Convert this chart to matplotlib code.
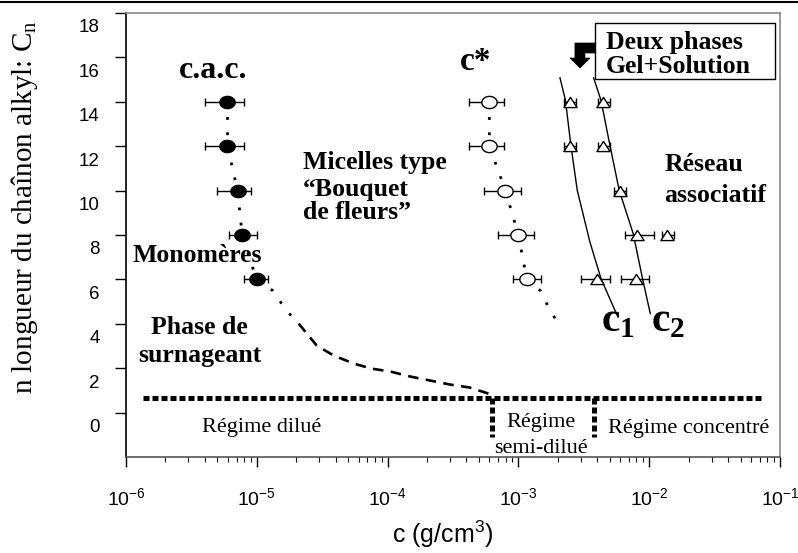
import numpy as np
import matplotlib
matplotlib.use("Agg")
import matplotlib.pyplot as plt
from matplotlib.path import Path
from matplotlib.patches import Rectangle, Polygon
from matplotlib.lines import Line2D
from matplotlib.transforms import ScaledTranslation
from matplotlib.ticker import LogLocator, NullFormatter

SERIF = 'Liberation Serif'
SANS = 'Liberation Sans'

# chain length of the alkyl group
n_alkyl = [14, 12, 10, 8, 6]

# c.a.c. (filled circles) with error bar limits, g/cm3
cac = [5.97e-6, 5.97e-6, 7.13e-6, 7.73e-6, 9.95e-6]
cac_lo = [4.05e-6, 4.05e-6, 5.0e-6, 6.1e-6, 7.96e-6]
cac_hi = [8.0e-6, 8.0e-6, 9.1e-6, 1.01e-5, 1.21e-5]

# c* (open circles)
cstar = [6.0e-4, 6.0e-4, 7.96e-4, 1.0e-3, 1.16e-3]
cstar_lo = [4.2e-4, 4.2e-4, 5.5e-4, 7.0e-4, 9.05e-4]
cstar_hi = [7.8e-4, 7.8e-4, 1.05e-3, 1.31e-3, 1.49e-3]

# gel points (open triangles)
tri_n = [14, 14, 12, 12, 10, 8, 8, 6, 6]
tri_c = [2.48e-3, 4.46e-3, 2.48e-3, 4.46e-3, 5.97e-3, 8.14e-3, 1.38e-2, 3.96e-3, 7.9e-3]
tri_lo = [2.24e-3, 4.03e-3, 2.24e-3, 4.03e-3, 5.4e-3, 6.53e-3, 1.25e-2, 3.01e-3, 6.08e-3]
tri_hi = [2.78e-3, 5.0e-3, 2.78e-3, 5.0e-3, 6.7e-3, 1.08e-2, 1.55e-2, 5.04e-3, 1.0e-2]

# dotted continuations below n=6
cac_tail_c = [1.32e-5, 1.61e-5, 1.99e-5]
cac_tail_n = [5.5, 4.77, 4.1]
cstar_tail_c = [1.47e-3, 1.69e-3, 1.97e-3]
cstar_tail_n = [5.5, 4.77, 4.1]

# dashed curve to the semi-dilute boundary
dash_c = [2.09e-5, 2.87e-5, 3.87e-5, 5.5e-5, 7.55e-5, 1.05e-4, 1.5e-4, 2.13e-4, 3.03e-4, 4.23e-4, 6.56e-4]
dash_n = [4.01, 3.02, 2.57, 2.21, 1.98, 1.85, 1.62, 1.44, 1.26, 1.13, 0.77]

# c1 and c2 boundaries
c1_c = [2.08e-3, 2.29e-3, 2.52e-3, 2.82e-3, 3.52e-3, 4.28e-3, 5.66e-3]
c1_n = [15.08, 14.07, 12.04, 10.01, 7.69, 6.04, 4.41]
c2_c = [3.76e-3, 4.28e-3, 5.01e-3, 5.9e-3, 7.55e-3, 8.89e-3, 1.02e-2]
c2_n = [15.08, 14.07, 12.04, 10.01, 8.06, 6.04, 4.46]

# regime boundaries
regime_y = 0.68
regime_x = [1.35e-6, 7.5e-2]
semi_left, semi_right = 6.3e-4, 3.8e-3
semi_bottom = -1.08

fig = plt.figure(figsize=(7.98, 5.53), dpi=100)
ax = fig.add_axes([0.1579, 0.1736, 0.8195, 0.8029])
ax.set_xscale('log')
ax.set_xlim(1e-6, 1e-1)
ax.set_ylim(-2, 18)

# markers
th = np.linspace(0, 2 * np.pi, 61)
ellipse = Path(np.column_stack([np.cos(th), 0.8 * np.sin(th)]), closed=True)
triangle = Path([(0, 0.77), (-1, -0.77), (1, -0.77), (0, 0.77)], closed=True)

# dotted connections
ax.plot(cac + cac_tail_c, n_alkyl + cac_tail_n, color='black', lw=2,
        linestyle=(0, (1, 4.5)), zorder=2)
ax.plot(cstar + cstar_tail_c, n_alkyl + cstar_tail_n, color='black', lw=2,
        linestyle=(0, (1, 4.5)), zorder=2)
ax.plot(dash_c, dash_n, color='black', lw=1.9, linestyle=(0, (4, 2.8)), zorder=2)

ax.plot(c1_c, c1_n, color='black', lw=1, zorder=2)
ax.plot(c2_c, c2_n, color='black', lw=1, zorder=2)

# error bars
def xerr(c, lo, hi):
    return [np.array(c) - np.array(lo), np.array(hi) - np.array(c)]

ax.errorbar(cac, n_alkyl, xerr=xerr(cac, cac_lo, cac_hi), fmt='none',
            ecolor='black', elinewidth=1, capsize=3, capthick=1, zorder=3)
ax.errorbar(cstar, n_alkyl, xerr=xerr(cstar, cstar_lo, cstar_hi), fmt='none',
            ecolor='black', elinewidth=1, capsize=3, capthick=1, zorder=3)
ax.errorbar(tri_c, tri_n, xerr=xerr(tri_c, tri_lo, tri_hi), fmt='none',
            ecolor='black', elinewidth=1, capsize=3, capthick=1, zorder=3)

ax.plot(cac, n_alkyl, linestyle='none', marker=ellipse, markersize=11,
        markerfacecolor='black', markeredgecolor='black', zorder=4)
ax.plot(cstar, n_alkyl, linestyle='none', marker=ellipse, markersize=11,
        markerfacecolor='white', markeredgecolor='black', markeredgewidth=1, zorder=4)
ax.plot(tri_c, tri_n, linestyle='none', marker=triangle, markersize=9.5,
        markerfacecolor='white', markeredgecolor='black', markeredgewidth=1, zorder=4)

# regime lines
thick_dot = dict(color='black', lw=3.6, linestyle=(0, (1.2, 0.6)), zorder=2)
ax.plot(regime_x, [regime_y, regime_y], **thick_dot)
ax.plot([semi_left, semi_left], [regime_y, semi_bottom], **thick_dot)
ax.plot([semi_right, semi_right], [regime_y, semi_bottom], **thick_dot)

# annotations
bold = dict(family=SERIF, fontweight='bold', color='black')
ax.text(4.61e-6, 15.05, 'c.a.c.', fontsize=23, ha='center', va='baseline', **bold)
ax.text(4.7e-4, 15.45, 'c*', fontsize=24, ha='center', va='baseline', **bold)
ax.text(2.24e-5, 10.99, 'Micelles type', fontsize=18.5, ha='left', va='baseline', **bold)
ax.text(2.24e-5, 9.77, '\u201cBouquet', fontsize=18.5, ha='left', va='baseline', **bold)
ax.text(2.24e-5, 8.74, 'de fleurs\u201d', fontsize=18.5, ha='left', va='baseline', **bold)
ax.text(1.13e-6, 6.8, 'Monomères', fontsize=18.5, ha='left', va='baseline', **bold)
ax.text(3.67e-6, 3.56, 'Phase de', fontsize=18.5, ha='center', va='baseline', **bold)
ax.text(3.67e-6, 2.3, 'surnageant', fontsize=18.5, ha='center', va='baseline', **bold)
ax.text(1.3e-2, 10.9, 'Réseau', fontsize=18.5, ha='left', va='baseline', **bold)
ax.text(1.3e-2, 9.5, 'associatif', fontsize=18.5, ha='left', va='baseline', **bold)
ax.text(4.31e-3, 3.65, r'c$_\mathdefault{1}$', fontsize=30, ha='left', va='baseline', **bold)
ax.text(1.04e-2, 3.65, r'c$_\mathdefault{2}$', fontsize=30, ha='left', va='baseline', **bold)

reg = dict(family=SERIF, fontsize=16, color='black', va='baseline', ha='center')
ax.text(1.09e-5, -0.86, 'Régime dilué', **reg)
ax.text(1.5e-3, -0.63, 'Régime', **reg)
ax.text(1.5e-3, -1.8, 'semi-dilué', **reg)
ax.text(2.02e-2, -0.92, 'Régime concentré', **reg)

# two-phase box with bent arrow
ax.add_patch(Rectangle((0.717, 0.851), 0.276, 0.127, transform=ax.transAxes,
                       facecolor='white', edgecolor='black', lw=1, zorder=5))
ax.text(0.734, 0.919, 'Deux phases', transform=ax.transAxes, fontsize=18.5,
        ha='left', va='baseline', zorder=6, **bold)
ax.text(0.734, 0.865, 'Gel+Solution', transform=ax.transAxes, fontsize=18.5,
        ha='left', va='baseline', zorder=6, **bold)
arrow = [(0.7171, 0.9324), (0.6865, 0.9324), (0.6865, 0.8986), (0.6789, 0.8986),
         (0.6942, 0.8761), (0.7095, 0.8986), (0.7018, 0.8986), (0.7018, 0.9099),
         (0.7171, 0.9099)]
ax.add_patch(Polygon(arrow, closed=True, transform=ax.transAxes,
                     facecolor='black', edgecolor='black', lw=0.5, zorder=5))

# axes styling
ax.spines['left'].set_color('black')
ax.spines['bottom'].set_color('#555555')
ax.spines['top'].set_color('#888888')
ax.spines['right'].set_color('#888888')
for s in ax.spines.values():
    s.set_linewidth(1.2)

ax.set_yticks(np.arange(0, 19, 2))
ax.set_yticklabels([str(v) for v in range(0, 19, 2)])
ax.xaxis.set_major_locator(LogLocator(base=10, numticks=10))
ax.xaxis.set_minor_locator(LogLocator(base=10, subs=np.arange(2, 10), numticks=20))
ax.xaxis.set_minor_formatter(NullFormatter())
ax.tick_params(axis='y', which='major', direction='out', length=8, width=1,
               pad=11, labelsize=13.5, colors='black')
ax.tick_params(axis='x', which='major', direction='out', length=7, width=1,
               pad=15, labelsize=14, colors='black')
ax.tick_params(axis='x', which='minor', direction='out', length=3.5, width=0.8)
for lab in ax.get_xticklabels() + ax.get_yticklabels():
    lab.set_family(SANS)
for lab in ax.get_yticklabels():
    lab.set_transform(lab.get_transform() + ScaledTranslation(0, -0.13, fig.dpi_scale_trans))

fig.text(25 / 798, 1 - 207 / 553, r'n longueur du chaînon alkyl: C$_\mathdefault{n}$',
         rotation=90, ha='center', va='center', family=SERIF, fontsize=21)
fig.text(443 / 798, 1 - 543 / 553, r'c (g/cm$^\mathdefault{3}$)', ha='center',
         va='baseline', family=SANS, fontsize=18)

fig.add_artist(Line2D([0, 1], [1 - 1.5 / 553, 1 - 1.5 / 553], transform=fig.transFigure,
                      color='black', lw=1.5))

fig.savefig('out.png', dpi=100)
